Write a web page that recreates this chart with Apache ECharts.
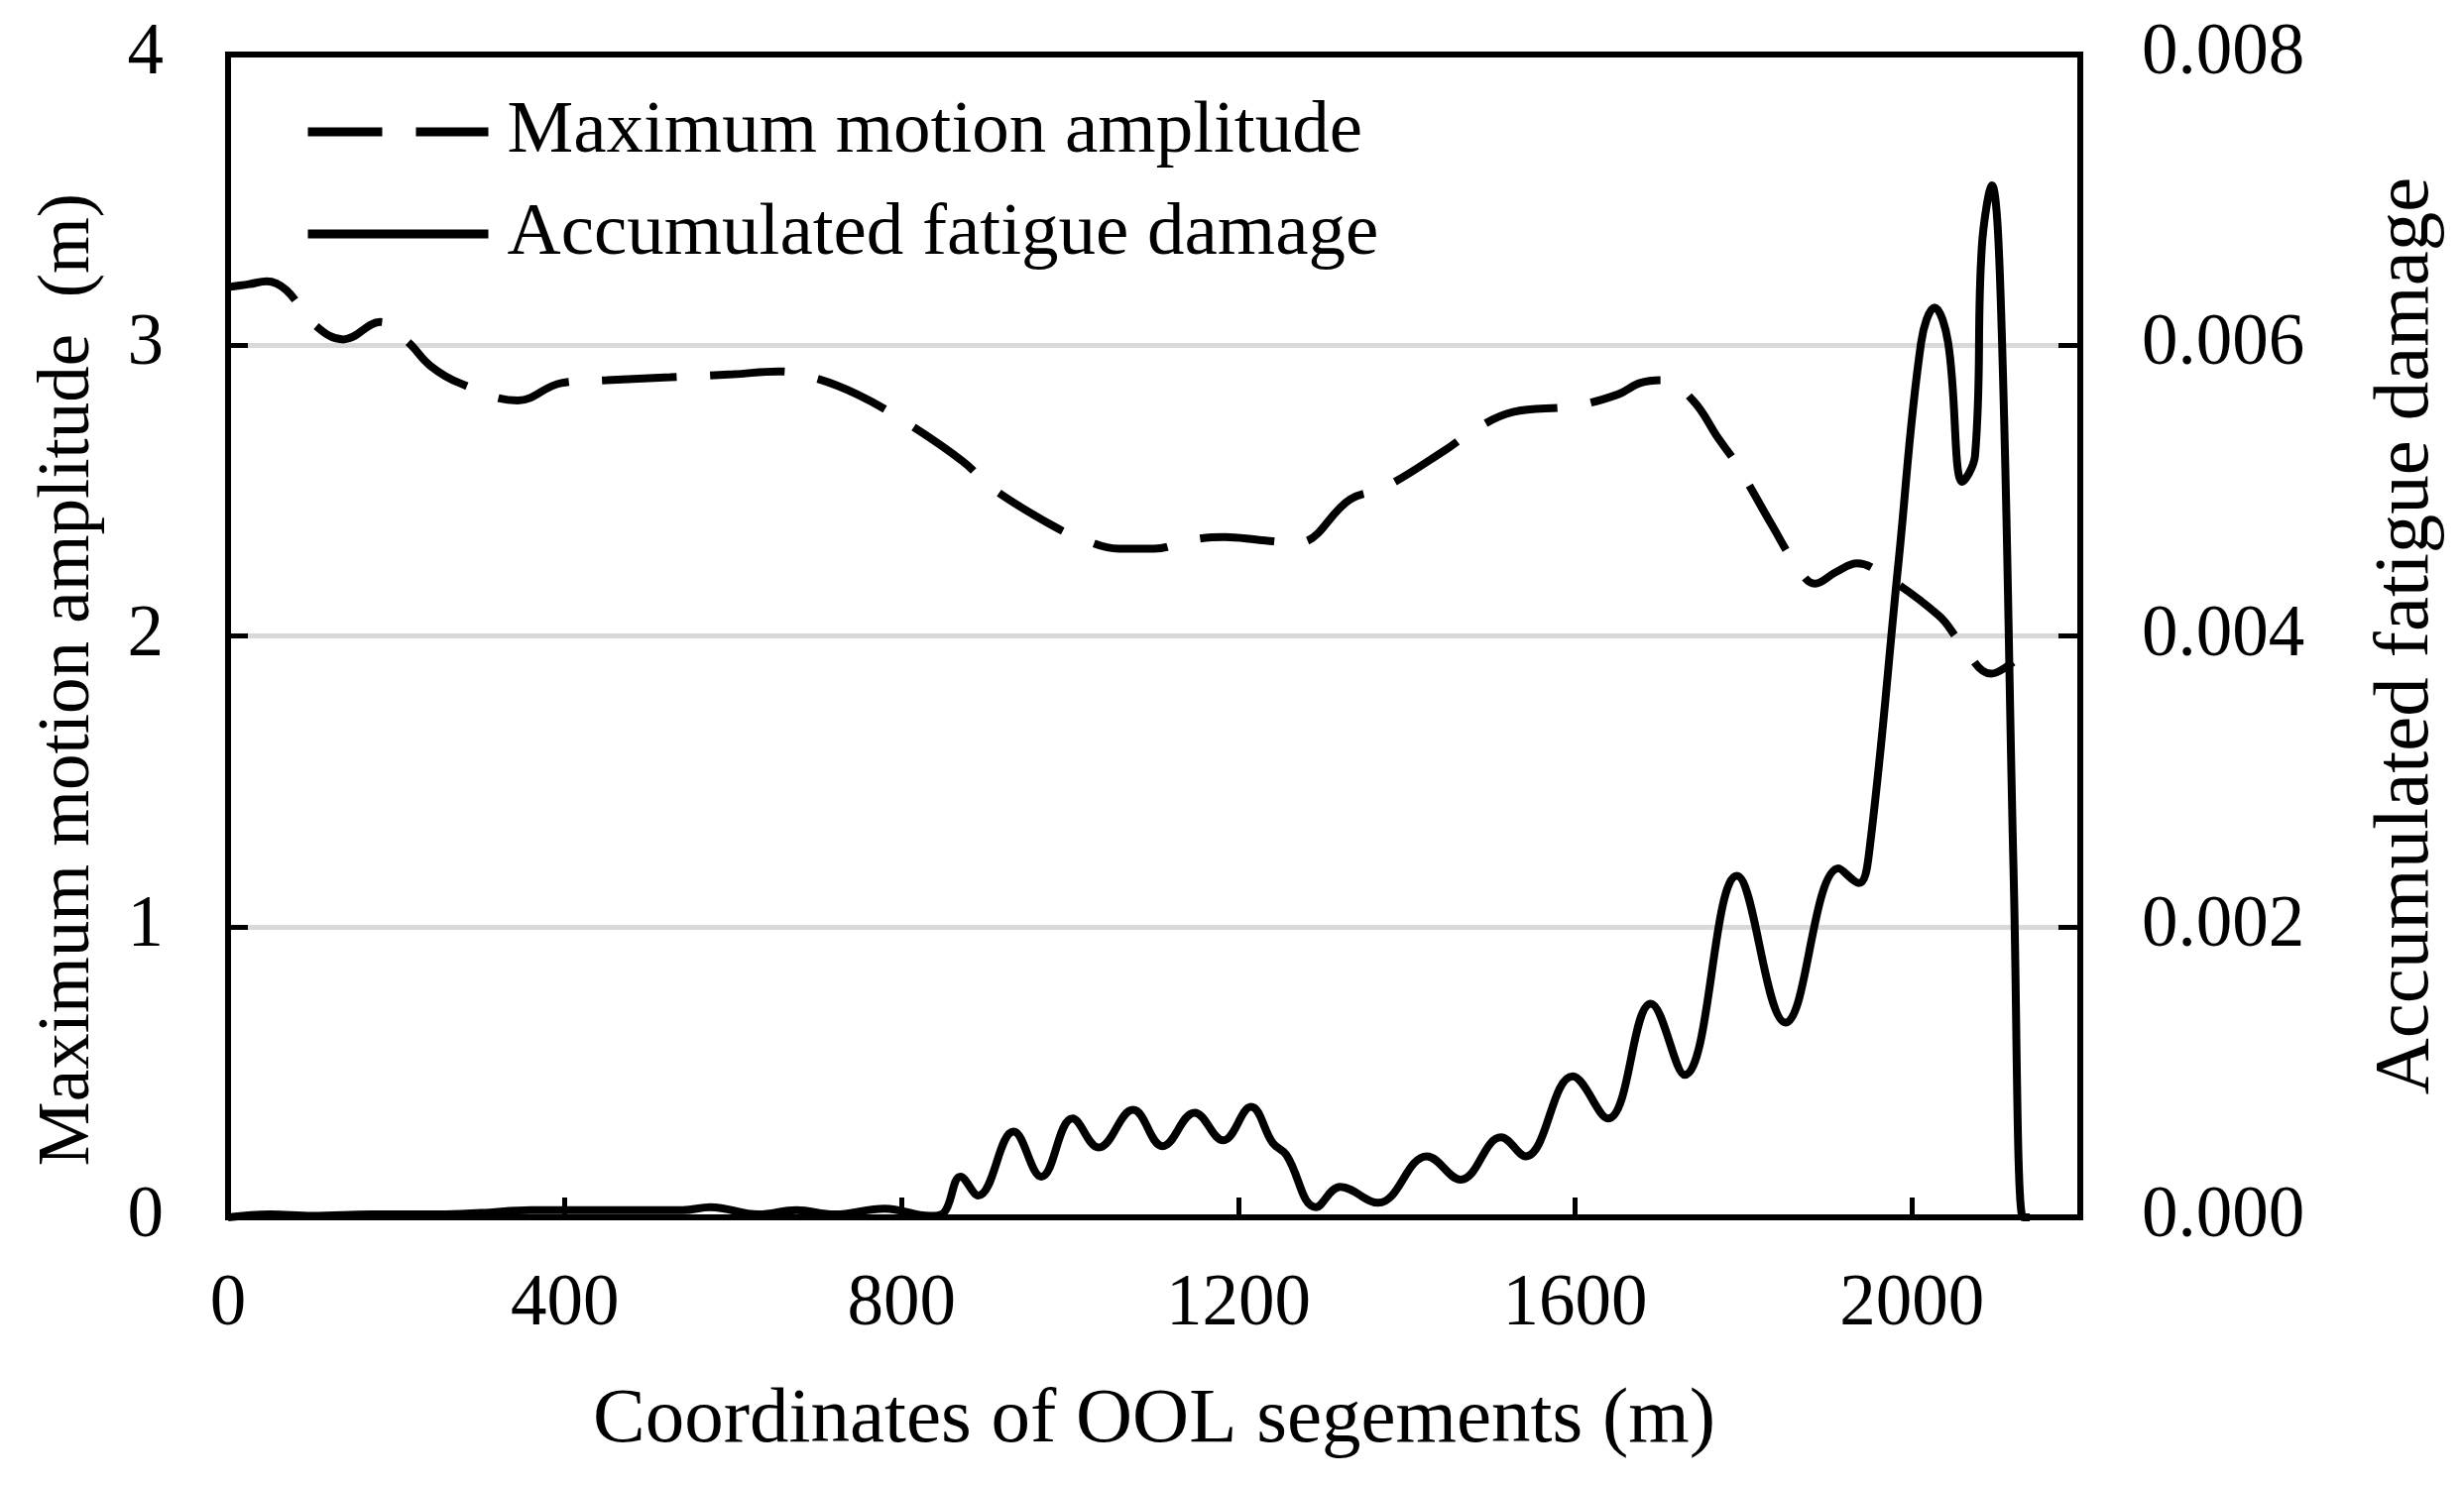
<!DOCTYPE html>
<html>
<head>
<meta charset="utf-8">
<script src="https://cdn.jsdelivr.net/npm/echarts@6/dist/echarts.min.js"></script>
<style>
html,body{margin:0;padding:0;background:#fff;}
#chart{width:2485px;height:1498px;}
</style>
</head>
<body>
<div id="chart"></div>
<script>
// ---- Data ----
const xTickInterval = 400;
const ampName = 'Maximum motion amplitude';
const dmgName = 'Accumulated fatigue damage';

// Maximum motion amplitude (m) vs coordinate (m)
const ampX = [0, 25, 46, 69, 103, 137, 181, 214, 240, 275, 344, 396, 450, 525, 600, 653, 694, 748, 808, 873, 907, 979, 1017, 1058, 1100, 1143, 1184, 1225, 1270, 1333, 1373, 1446, 1481, 1526, 1597, 1650, 1677, 1705, 1740, 1770, 1792, 1836, 1859, 1885, 1910, 1935, 1961, 2032, 2057, 2094, 2120];
const ampY = [3.20, 3.21, 3.22, 3.19, 3.07, 3.02, 3.08, 3.01, 2.93, 2.87, 2.81, 2.87, 2.88, 2.89, 2.90, 2.91, 2.89, 2.83, 2.73, 2.60, 2.51, 2.38, 2.33, 2.30, 2.30, 2.33, 2.34, 2.33, 2.32, 2.47, 2.51, 2.64, 2.71, 2.77, 2.79, 2.83, 2.87, 2.88, 2.81, 2.68, 2.59, 2.37, 2.26, 2.18, 2.22, 2.25, 2.22, 2.07, 1.98, 1.87, 1.91];

// Accumulated fatigue damage vs coordinate (m)
const dmgX = [0, 50, 100, 170, 250, 300, 360, 460, 540, 573, 630, 675, 720, 780, 834, 850, 870, 891, 933, 966, 1003, 1034, 1075, 1110, 1148, 1182, 1215, 1241, 1257, 1292, 1321, 1366, 1424, 1464, 1512, 1541, 1597, 1639, 1690, 1730, 1792, 1850, 1913, 1937, 1949, 1984, 2011, 2027, 2043, 2060, 2075, 2083, 2095, 2106, 2121, 2132, 2140];
const dmgY = [0, 0.00002, 0.00001, 0.00002, 0.00002, 0.00003, 0.00005, 0.00005, 0.00005, 0.00007, 0.00002, 0.00005, 0.00002, 0.00006, 0.00001, 0.00003, 0.00028, 0.00015, 0.00059, 0.00028, 0.00068, 0.00048, 0.00074, 0.00049, 0.00072, 0.00053, 0.00076, 0.00051, 0.00043, 0.00007, 0.00021, 0.00010, 0.00042, 0.00026, 0.00055, 0.00042, 0.00097, 0.00068, 0.00147, 0.00098, 0.00235, 0.00134, 0.00240, 0.00230, 0.00250, 0.00450, 0.00602, 0.00626, 0.00602, 0.00506, 0.00524, 0.00667, 0.00710, 0.00623, 0.00232, 0, 0];

const ampData = ampX.map((x, i) => [x, ampY[i]]);
const dmgData = dmgX.map((x, i) => [x, dmgY[i]]);

const FONT = '"Liberation Serif", "Times New Roman", serif';
const DASH = [75, 34];
const chart = echarts.init(document.getElementById('chart'));
chart.setOption({
  backgroundColor: '#ffffff',
  animation: false,
  textStyle: { fontFamily: FONT, color: '#000' },
  grid: {
    left: 230, right: 387, top: 55, bottom: 270,
    show: true, borderColor: '#000', borderWidth: 6, backgroundColor: 'transparent'
  },
  legend: {
    orient: 'vertical',
    left: 301, top: 88,
    itemWidth: 182, itemHeight: 1, itemGap: 23,
    itemStyle: { color: 'rgba(0,0,0,0)', borderWidth: 0 },
    textStyle: { fontFamily: FONT, fontSize: 75, color: '#000', lineHeight: 80, padding: [0, 0, 0, 14] },
    data: [
      { name: ampName, lineStyle: { color: '#000', width: 9, type: DASH, cap: 'butt' } },
      { name: dmgName, lineStyle: { color: '#000', width: 9, type: 'solid', cap: 'butt' } }
    ]
  },
  xAxis: {
    type: 'value', min: 0, max: 2200, interval: xTickInterval,
    name: 'Coordinates of OOL segements (m)',
    nameLocation: 'middle', nameGap: 166,
    nameTextStyle: { fontFamily: FONT, fontSize: 79, color: '#000' },
    axisLine: { show: true, lineStyle: { color: '#000', width: 6 } },
    axisTick: { show: true, inside: true, length: 20, lineStyle: { color: '#000', width: 5 } },
    axisLabel: { fontFamily: FONT, fontSize: 73, color: '#000', margin: 52, showMaxLabel: false, formatter: v => String(v) },
    splitLine: { show: false }
  },
  yAxis: [
    {
      type: 'value', min: 0, max: 4, interval: 1, position: 'left',
      name: 'Maximum motion amplitude  (m)',
      nameLocation: 'middle', nameGap: 124, nameRotate: 90,
      nameTextStyle: { fontFamily: FONT, fontSize: 73, color: '#000', padding: [0, 88, 0, 0] },
      axisLine: { show: true, lineStyle: { color: '#000', width: 6 } },
      axisTick: { show: true, inside: true, length: 20, lineStyle: { color: '#000', width: 5 } },
      axisLabel: { fontFamily: FONT, fontSize: 73, color: '#000', margin: 65 },
      splitLine: { show: true, lineStyle: { color: ['rgba(0,0,0,0)', '#d9d9d9', '#d9d9d9', '#d9d9d9', 'rgba(0,0,0,0)'], width: 5 } }
    },
    {
      type: 'value', min: 0, max: 0.008, interval: 0.002, position: 'right',
      name: 'Accumulated fatigue damage',
      nameLocation: 'middle', nameGap: 290, nameRotate: 90,
      nameTextStyle: { fontFamily: FONT, fontSize: 79, color: '#000' },
      axisLine: { show: true, lineStyle: { color: '#000', width: 6 } },
      axisTick: { show: true, inside: true, length: 22, lineStyle: { color: '#000', width: 5 } },
      axisLabel: { fontFamily: FONT, fontSize: 73, color: '#000', margin: 62, formatter: v => v.toFixed(3) },
      splitLine: { show: false }
    }
  ],
  series: [
    {
      name: ampName, type: 'line', yAxisIndex: 0, data: ampData,
      smooth: 0.4, symbol: 'none',
      lineStyle: { color: '#000', width: 8, type: DASH, cap: 'butt' },
      itemStyle: { color: '#000' }
    },
    {
      name: dmgName, type: 'line', yAxisIndex: 1, data: dmgData,
      smooth: 0.4, symbol: 'none',
      lineStyle: { color: '#000', width: 8, type: 'solid' },
      itemStyle: { color: '#000' }
    }
  ]
});
</script>
</body>
</html>
